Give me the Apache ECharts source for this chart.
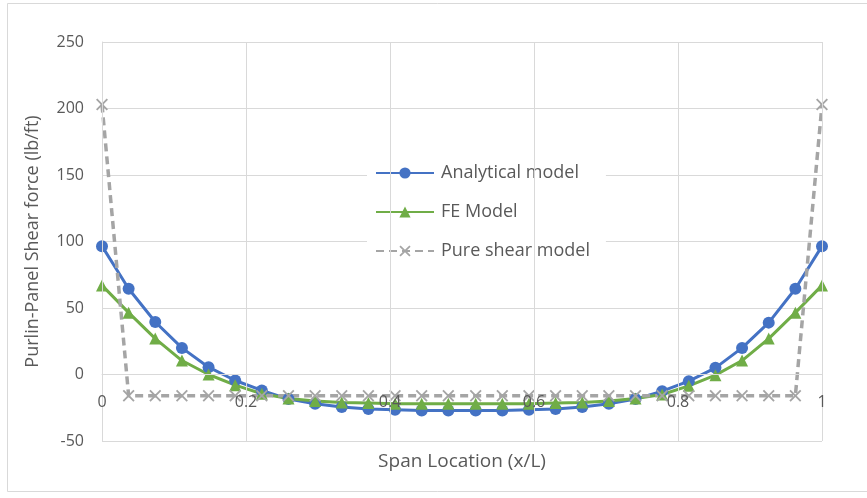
<!DOCTYPE html>
<html>
<head>
<meta charset="utf-8">
<script src="https://cdn.jsdelivr.net/npm/echarts@6/dist/echarts.min.js"></script>
<style>html,body{margin:0;padding:0;background:#fff;}#c{width:867px;height:498px;}</style>
</head>
<body>
<div id="c"></div>
<script>
var spanX = [0, 0.037, 0.074, 0.111, 0.148, 0.185, 0.222, 0.259, 0.296, 0.333, 0.370, 0.407, 0.444, 0.481,
             0.519, 0.556, 0.593, 0.630, 0.667, 0.704, 0.741, 0.778, 0.815, 0.852, 0.889, 0.926, 0.963, 1];
var analytical = [96.5, 64.5, 39.5, 20, 5.5, -4.5, -12, -18.5, -22, -24.5, -26, -26.5, -27, -27,
                  -27, -27, -26.5, -26, -24.5, -22, -18.5, -12.5, -5, 5, 20, 39, 64.5, 96.5];
var feModel = [67, 46.5, 27, 10.5, 0, -8, -14.5, -18, -20, -21, -21.5, -22, -22, -22,
               -22, -22, -22, -21.5, -21, -20, -18, -15, -8.5, -0.5, 10.5, 27, 46.5, 67];
var pureShear = [203, -16, -16, -16, -16, -16, -16, -16, -16, -16, -16, -16, -16, -16,
                 -16, -16, -16, -16, -16, -16, -16, -16, -16, -16, -16, -16, -16, 203];
var seriesNames = ['Analytical model', 'FE Model', 'Pure shear model'];
var xTicks = {min: 0, max: 1, interval: 0.2};
var yTicks = {min: -50, max: 250, interval: 50};

function pairs(ys) { return spanX.map(function (x, i) { return [x, ys[i]]; }); }

var FONT = 'Open Sans';
var TXT = '#595959';
var GRID = '#d9d9d9';
var xMark = 'path://M0,1.1L1.1,0L5,3.9L8.9,0L10,1.1L6.1,5L10,8.9L8.9,10L5,6.1L1.1,10L0,8.9L3.9,5Z';

var gridTop = 42, gridBottom = 57, chartH = 498;
// place the horizontal axis where y = 0 (Excel "axis crosses at 0")
var plotH = chartH - gridTop - gridBottom;
var zeroOffset = -plotH * (0 - yTicks.min) / (yTicks.max - yTicks.min);

var chart = echarts.init(document.getElementById('c'));
chart.setOption({
  animation: false,
  backgroundColor: '#fff',
  graphic: [{
    type: 'rect', silent: true, z: -10,
    shape: {x: 7.5, y: 3.5, width: 900, height: 488},
    style: {fill: 'none', stroke: GRID, lineWidth: 1}
  }],
  grid: {left: 102, right: 45, top: gridTop, bottom: gridBottom, containLabel: false, outerBoundsMode: 'none'},
  legend: {
    orient: 'vertical', left: 367, top: 152,
    padding: [12, 16, 11, 8], itemGap: 21, itemWidth: 58, itemHeight: 14,
    backgroundColor: '#fff',
    data: seriesNames,
    textStyle: {fontFamily: FONT, fontSize: 18, color: TXT, padding: [0, 0, 0, 2]}
  },
  xAxis: {
    type: 'value', min: xTicks.min, max: xTicks.max, interval: xTicks.interval, z: 5,
    position: 'bottom', offset: zeroOffset,
    name: 'Span Location (x/L)', nameLocation: 'middle', nameGap: 78,
    nameTextStyle: {fontFamily: FONT, fontSize: 19, color: TXT},
    axisLine: {show: true, onZero: false, lineStyle: {color: GRID, width: 1}},
    axisTick: {show: false},
    splitLine: {show: true, lineStyle: {color: GRID, width: 1}},
    axisLabel: {fontFamily: FONT, fontSize: 16, color: TXT, margin: 20,
      formatter: function (v) { return String(Math.round(v * 10) / 10); }}
  },
  yAxis: {
    type: 'value', min: yTicks.min, max: yTicks.max, interval: yTicks.interval,
    name: 'Purlin-Panel Shear force (lb/ft)', nameLocation: 'middle', nameGap: 60,
    nameTextStyle: {fontFamily: FONT, fontSize: 18, color: TXT},
    axisLine: {show: true, onZero: false, lineStyle: {color: GRID, width: 1}},
    axisTick: {show: false},
    splitLine: {show: true, lineStyle: {color: GRID, width: 1}},
    axisLabel: {fontFamily: FONT, fontSize: 16, color: TXT, margin: 18}
  },
  series: [
    {
      name: seriesNames[0], type: 'line', data: pairs(analytical),
      symbol: 'circle', symbolSize: 12, showAllSymbol: true,
      lineStyle: {color: '#4472C4', width: 3},
      itemStyle: {color: '#4472C4'}
    },
    {
      name: seriesNames[1], type: 'line', data: pairs(feModel),
      symbol: 'triangle', symbolSize: 12, showAllSymbol: true,
      lineStyle: {color: '#70AD47', width: 3},
      itemStyle: {color: '#70AD47'}
    },
    {
      name: seriesNames[2], type: 'line', data: pairs(pureShear),
      symbol: xMark, symbolSize: 12, showAllSymbol: true,
      lineStyle: {color: '#A5A5A5', width: 3.5, type: [8, 5]},
      itemStyle: {color: '#A5A5A5'}
    }
  ]
});
</script>
</body>
</html>
